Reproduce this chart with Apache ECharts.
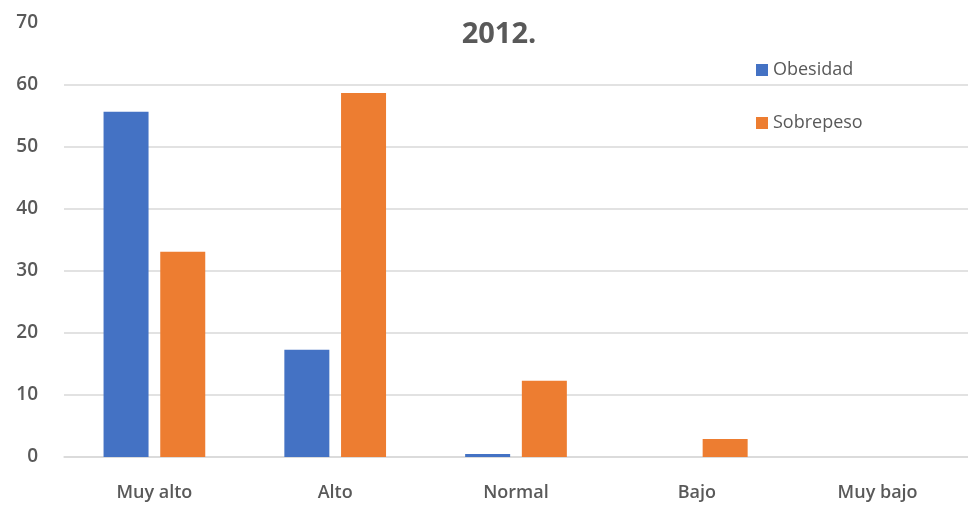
<!DOCTYPE html>
<html>
<head>
<meta charset="utf-8">
<script src="https://cdn.jsdelivr.net/npm/echarts@6/dist/echarts.min.js"></script>
<style>html,body{margin:0;padding:0;background:#fff}#c{width:968px;height:506px}</style>
</head>
<body>
<div id="c"></div>
<script>
const categories = ['Muy alto', 'Alto', 'Normal', 'Bajo', 'Muy bajo'];
const obesidad = [55.7, 17.3, 0.5, 0, 0];
const sobrepeso = [33.1, 58.7, 12.3, 2.9, 0];
const seriesNames = ['Obesidad', 'Sobrepeso'];
const titleText = '2012.';

const chart = echarts.init(document.getElementById('c'));
const font = '"Open Sans", "Liberation Sans", sans-serif';
chart.setOption({
  animation: false,
  title: {
    text: titleText, left: 494, top: 15, textAlign: 'center',
    textStyle: { fontFamily: font, fontSize: 29, fontWeight: 'bold', color: '#595959' }
  },
  legend: {
    data: seriesNames, orient: 'vertical', left: 751, top: 56,
    itemWidth: 12, itemHeight: 12, itemGap: 35, icon: 'rect',
    textStyle: { fontFamily: font, fontSize: 18, color: '#595959' }
  },
  grid: { left: 64, right: -2, top: 23, bottom: 49 },
  xAxis: {
    type: 'category', data: categories,
    axisLine: { show: true, lineStyle: { color: '#d9d9d9', width: 1.5 } },
    axisTick: { show: false },
    axisLabel: { fontFamily: font, fontSize: 18, color: '#595959', margin: 27, fontWeight: 600 }
  },
  yAxis: {
    type: 'value', min: 0, max: 70, interval: 10,
    axisLine: { show: false }, axisTick: { show: false },
    axisLabel: { fontFamily: font, fontSize: 19, color: '#595959', margin: 26, fontWeight: 600 },
    splitLine: { lineStyle: { color: ['#d9d9d9','#d9d9d9','#d9d9d9','#d9d9d9','#d9d9d9','#d9d9d9','#d9d9d9','rgba(0,0,0,0)'], width: 1.5 } }
  },
  series: [
    { name: seriesNames[0], type: 'bar', data: obesidad, barWidth: 45, barGap: '26%', itemStyle: { color: '#4472c4' } },
    { name: seriesNames[1], type: 'bar', data: sobrepeso, barWidth: 45, itemStyle: { color: '#ed7d31' } }
  ]
});
</script>
</body>
</html>
